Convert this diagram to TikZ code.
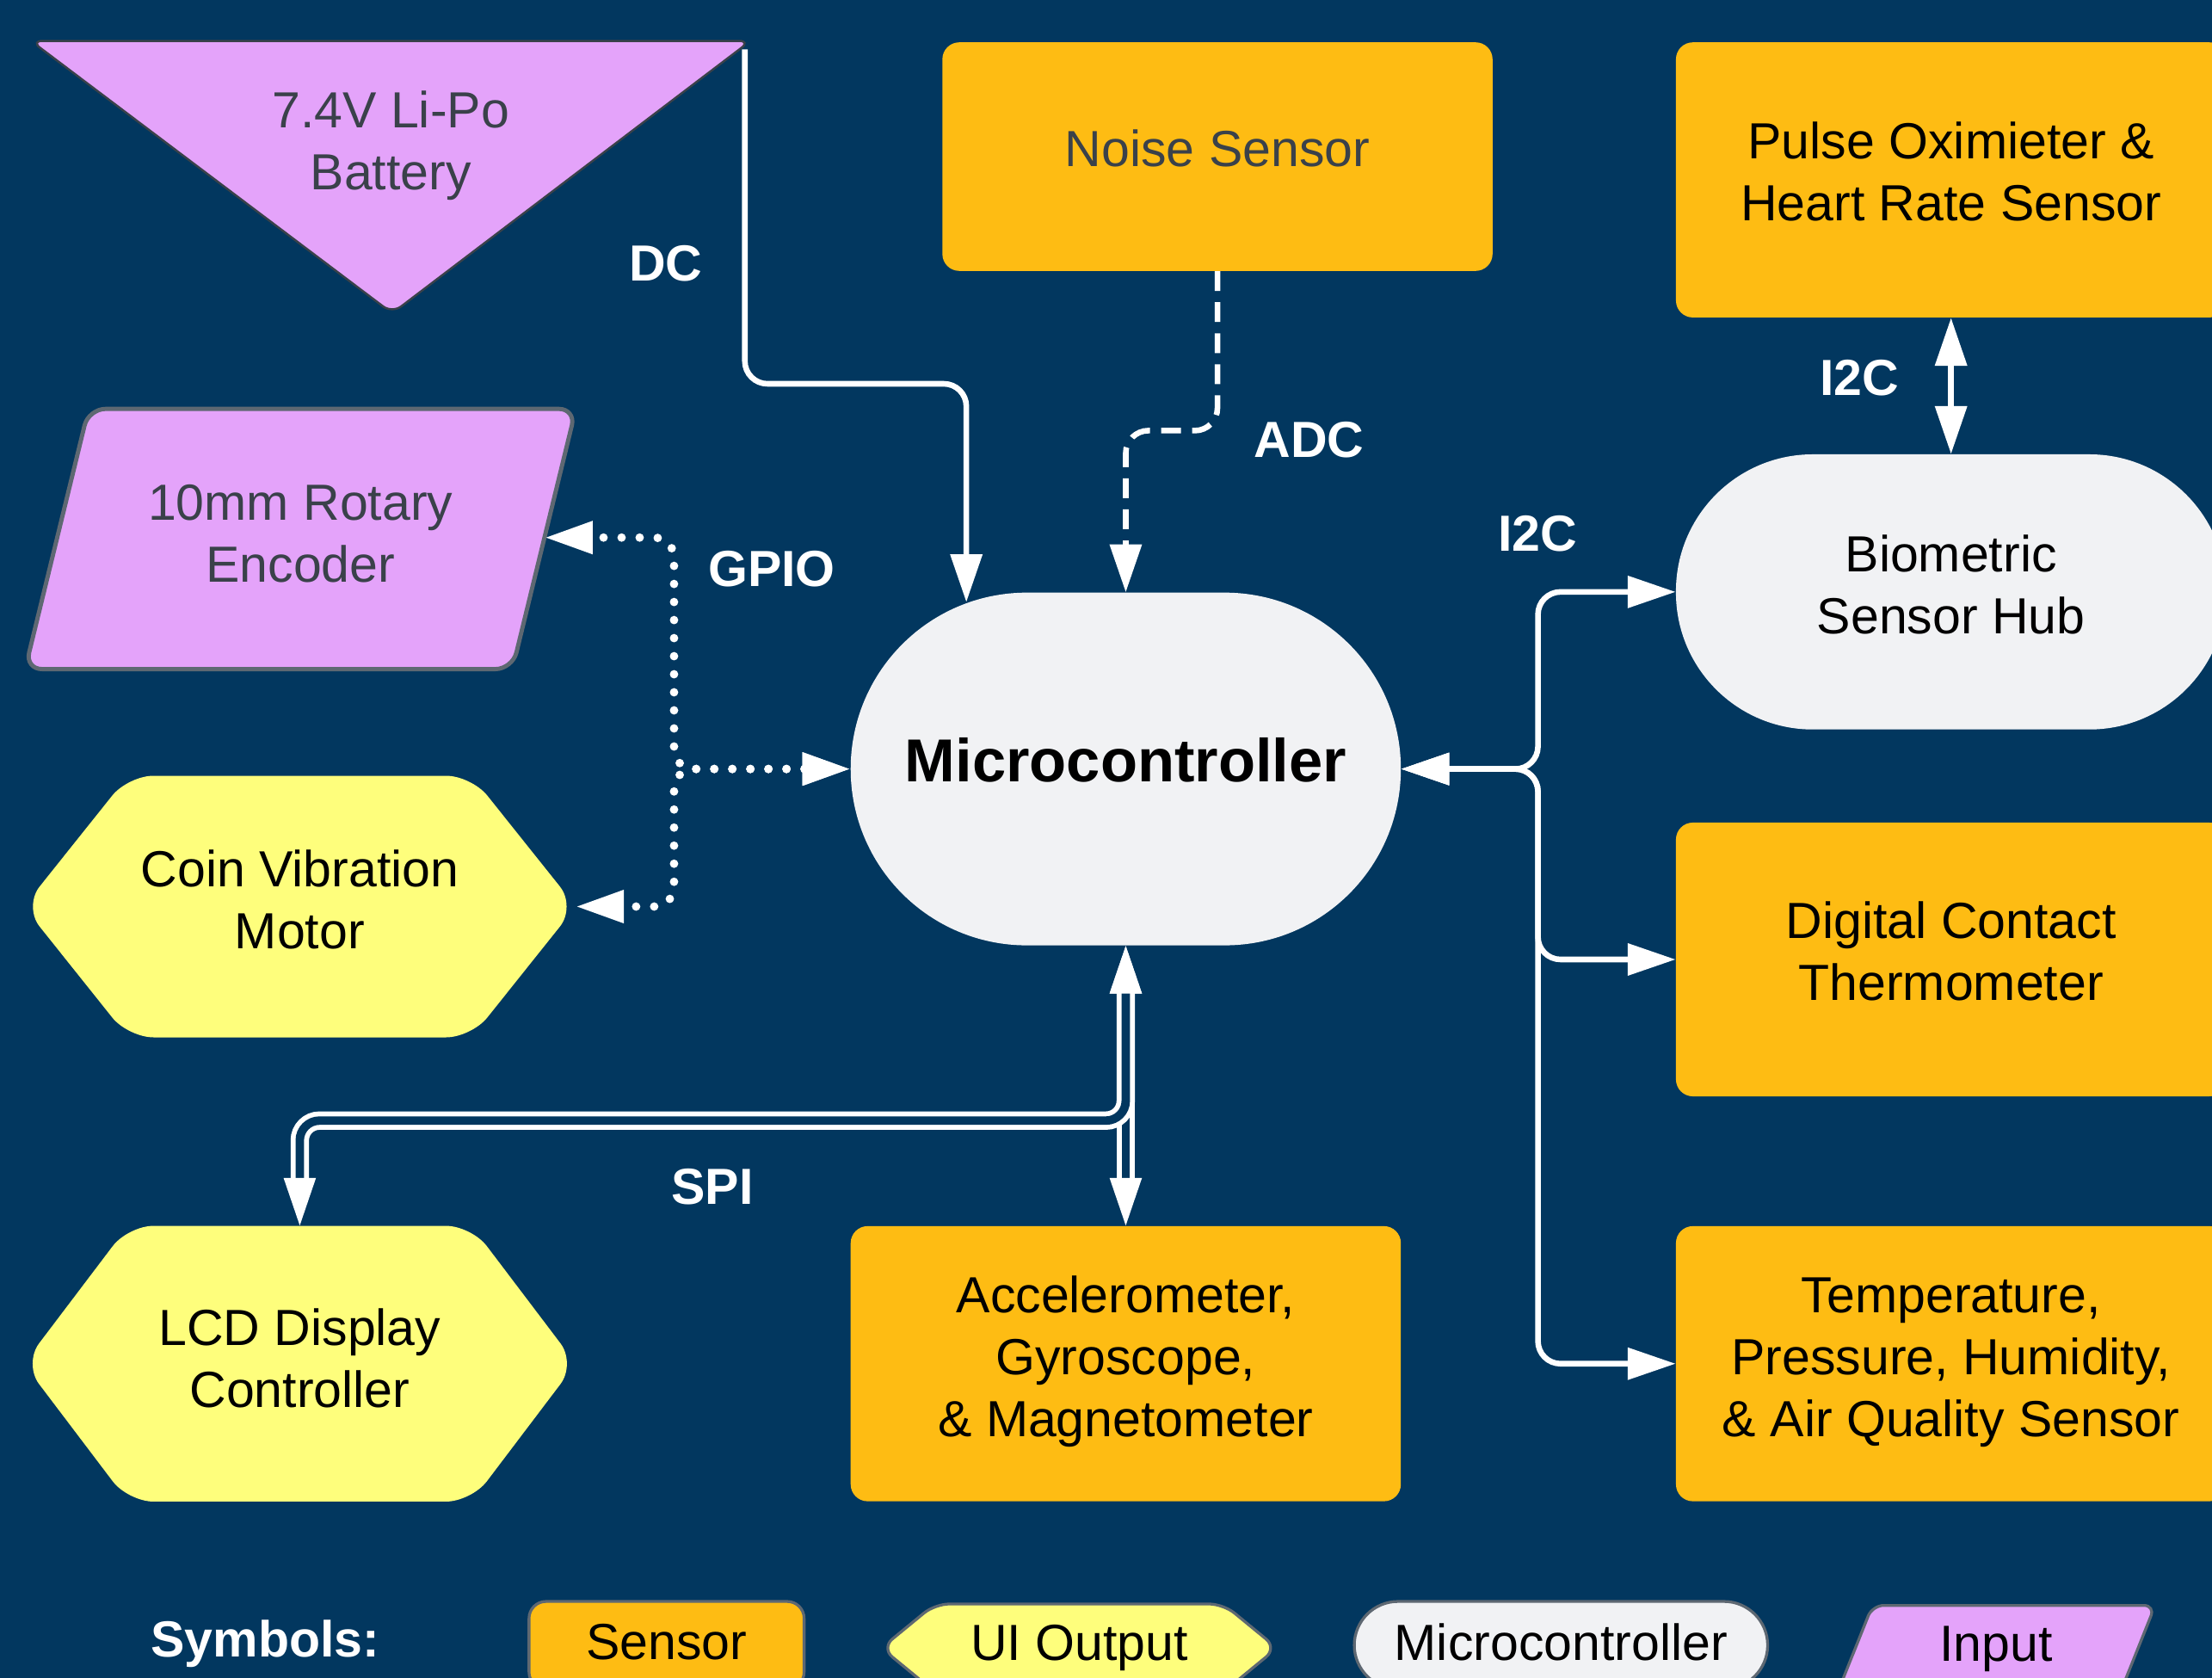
\documentclass[tikz,border=0pt]{standalone}
\usepackage{fontspec}
\setmainfont{Liberation Sans}
\usetikzlibrary{arrows.meta,calc}

\definecolor{navy}{HTML}{02375F}
\definecolor{sensorfill}{HTML}{FEBC13}
\definecolor{uifill}{HTML}{FEFE7C}
\definecolor{mcufill}{HTML}{F1F2F4}
\definecolor{inputfill}{HTML}{E4A3FA}
\definecolor{edgegray}{HTML}{5E6872}
\definecolor{textgray}{HTML}{3A414A}

\pgfdeclarelayer{shapes}
\pgfsetlayers{shapes,main}

% hexagon behind a node: node name, corner inset, path options
\newcommand\hexfill[3]{%
  \path[#3] ($(#1.north west)!0.5!(#1.north east)$)
    -- ([xshift=#2]#1.north west) -- (#1.west) -- ([xshift=#2]#1.south west)
    -- ([xshift=-#2]#1.south east) -- (#1.east) -- ([xshift=-#2]#1.north east) -- cycle;}
% slanted parallelogram behind a node: node name, skew, path options
\newcommand\slantfill[3]{%
  \path[#3] ($(#1.north west)!0.5!(#1.north east)$)
    -- (#1.north east) -- ([xshift=-#2]#1.south east) -- (#1.south west)
    -- ([xshift=#2]#1.north west) -- cycle;}

\begin{document}
\begin{tikzpicture}[x=1pt,y=-1pt,
  every node/.style={font=\fontsize{36}{44}\selectfont, align=center, inner sep=0pt, text=black},
  box/.style={minimum width=390pt, minimum height=195pt},
  sensor/.style={box, fill=sensorfill, rounded corners=12pt},
  hubshape/.style={box, fill=mcufill, rounded corners=97pt},
  hexarea/.style={minimum width=391pt, minimum height=#1},
  lbl/.style={text=white, font=\fontsize{36}{44}\selectfont\bfseries},
  >={Triangle[length=34pt,width=22pt]},
  wire/.style={draw=white, line width=4pt, rounded corners=16pt},
  dashwire/.style={wire, dash pattern=on 14pt off 8pt},
  dotwire/.style={draw=white, line width=6pt, line cap=round, dash pattern=on 0pt off 12.8pt, rounded corners=14pt},
  spiwire/.style={draw=white, double=navy, line width=3.5pt, double distance=6pt, rounded corners=14pt},
  legend/.style={draw=edgegray, line width=2pt}
]
\useasboundingbox (0,0) rectangle (1568,1189);
\clip (0,0) rectangle (1568,1189);

% blocks (text set as a centred label, nudged to its printed height)
\node (batt) [text=textgray] at (277,103) {7.4V Li-Po\\Battery};
\node (noise) [sensor, minimum height=162pt,
  label={[yshift=6pt, text=textgray]center:{Noise Sensor}}] at (863,111) {};
\node (pulse) [sensor, label={[yshift=6pt]center:{Pulse Oximieter \&\\Heart Rate Sensor}}] at (1383,127.5) {};
\node (enc) [minimum width=390pt, minimum height=184pt,
  label={[yshift=4pt, text=textgray]center:{10mm Rotary\\Encoder}}] at (213,382) {};
\node (hub) [hubshape, label={[yshift=5pt]center:{Biometric\\Sensor Hub}}] at (1383,419.5) {};
\node (mcu) [box, minimum height=250pt, fill=mcufill, rounded corners=124.9pt,
  label={[yshift=6pt, font=\fontsize{43}{50}\selectfont\bfseries]center:{Microcontroller}}] at (798,545) {};
\node (coin) [hexarea=185pt, label={[yshift=5pt]center:{Coin Vibration\\Motor}}] at (212.5,642.5) {};
\node (thermo) [sensor, minimum height=194pt, label={[yshift=6pt]center:{Digital Contact\\Thermometer}}] at (1383,680) {};
\node (lcd) [hexarea=195pt, label={[yshift=4pt]center:{LCD Display\\Controller}}] at (212.5,966.5) {};
\node (accel) [sensor, label={[yshift=1.5pt]center:{Accelerometer,\\Gyroscope,\\\& Magnetometer}}] at (798,966.5) {};
\node (temp) [sensor, label={[yshift=1pt]center:{Temperature,\\Pressure, Humidity,\\\& Air Quality Sensor}}] at (1383,966.5) {};

% legend
\node (legS) [lbl] at (188,1165) {Symbols:};
\node (legSensor) [legend, fill=sensorfill, rounded corners=12pt, minimum width=195pt, minimum height=62pt,
  label={[yshift=2pt]center:{Sensor}}] at (472.5,1166) {};
\node (legUI) [minimum width=280pt, minimum height=62pt] at (765,1168) {UI Output};
\node (legMcu) [legend, fill=mcufill, rounded corners=31pt, minimum width=293pt, minimum height=62pt,
  label={[yshift=2pt]center:{Microcontroller}}] at (1106.5,1166) {};
\node (legIn) [minimum width=225pt, minimum height=62pt] at (1415,1169) {Input};

% shapes drawn behind the text
\begin{pgfonlayer}{shapes}
  \fill[navy] (0,0) rectangle (1568,1189);
  \path[fill=inputfill, draw=textgray, line width=1.5pt, rounded corners=8pt]
    ([shift={(0,-74)}]batt.center) -- ([shift={(255,-74)}]batt.center)
    -- ([shift={(1,119)}]batt.center) -- ([shift={(-255,-74)}]batt.center) -- cycle;
  \slantfill{enc}{45pt}{fill=inputfill, draw=edgegray, line width=3pt, rounded corners=12pt}
  \hexfill{coin}{74pt}{fill=uifill, rounded corners=18pt}
  \hexfill{lcd}{74pt}{fill=uifill, rounded corners=18pt}
  \hexfill{legUI}{38pt}{fill=uifill, legend, rounded corners=10pt}
  \slantfill{legIn}{25pt}{fill=inputfill, legend, rounded corners=8pt}
\end{pgfonlayer}

% connectors
\coordinate (battc) at ([shift={(251,-68)}]batt.center);
\draw[wire, ->] (battc) -- ++(0,237) -- ++(157,0) -- ([xshift=-113pt, yshift=-7pt]mcu.north);
\draw[dashwire, ->] (noise.south) -- ++(0,113) -| (mcu.north);
\draw[dotwire, <->] (mcu.west) -- ++(-125,0) |- ([xshift=-22pt, yshift=1pt]enc.east);
\draw[dotwire, <->] (mcu.west) -- ++(-125,0) |- (coin.east);
\draw[wire, <->] (mcu.east) -- ++(97,0) |- (hub.west);
\draw[wire, <->] (mcu.east) -- ++(97,0) |- (thermo.west);
\draw[wire, <->] (mcu.east) -- ++(97,0) |- (temp.west);
\draw[wire, <->] (pulse.south) -- (hub.north);
\draw[spiwire, <->] (mcu.south) -- (accel.north);
\draw[spiwire, <->] (mcu.south) -- ++(0,124) -| (lcd.north);

% connector labels
\node (lDC) [lbl] at (472,187) {DC};
\node (lADC) [lbl] at (928,312) {ADC};
\node (lGPIO) [lbl] at (547,403) {GPIO};
\node (lI2Ca) [lbl] at (1090,378) {I2C};
\node (lI2Cb) [lbl] at (1318,268) {I2C};
\node (lSPI) [lbl] at (505,841) {SPI};
\end{tikzpicture}
\end{document}
